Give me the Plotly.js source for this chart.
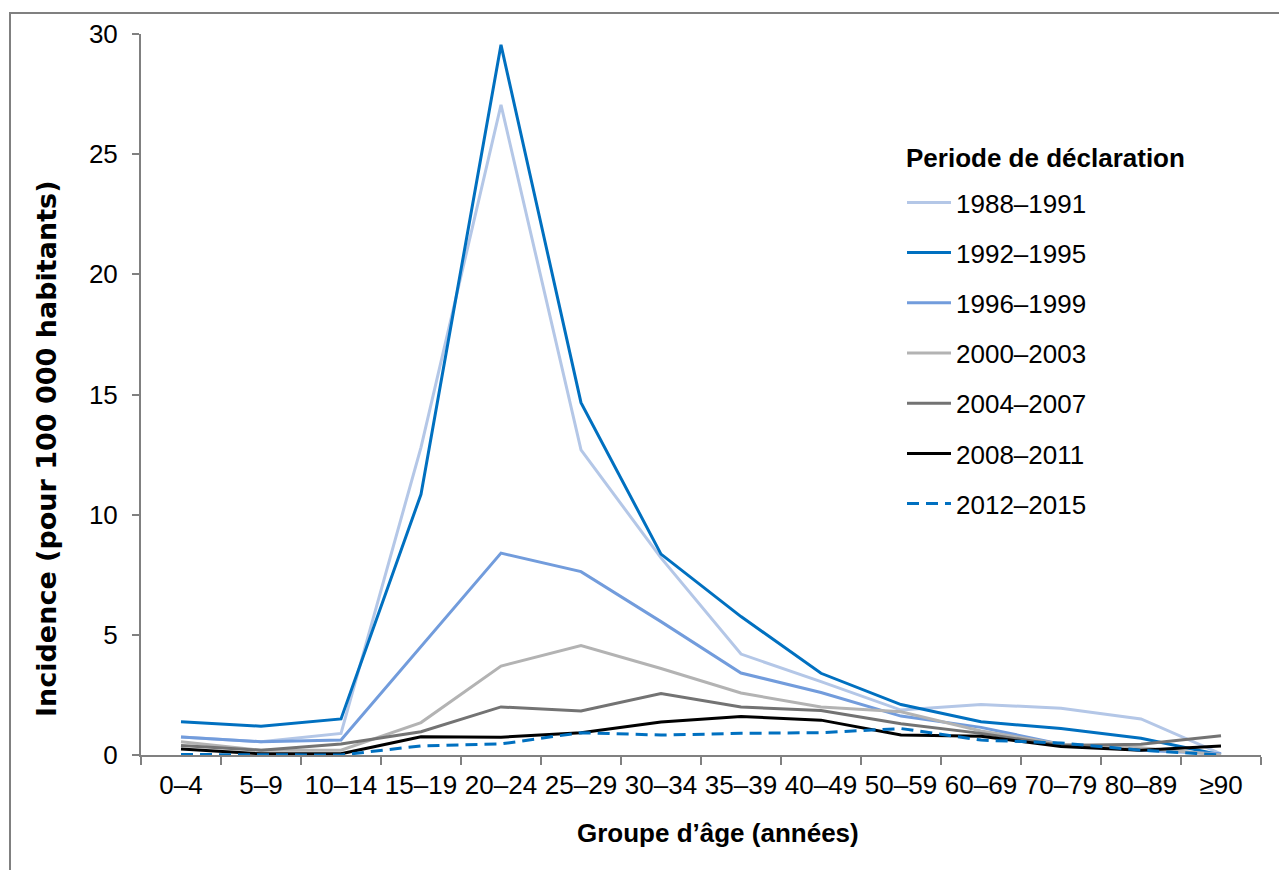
<!DOCTYPE html>
<html>
<head>
<meta charset="utf-8">
<script src="https://cdn.plot.ly/plotly-3.0.1.min.js"></script>
<style>
  html, body { margin: 0; padding: 0; background: #ffffff; }
  #chart { width: 1279px; height: 870px; }
</style>
</head>
<body>
<div id="chart"></div>
<script>
// Age groups (x categories)
const ageGroups = ['0–4','5–9','10–14','15–19','20–24','25–29','30–34','35–39','40–49','50–59','60–69','70–79','80–89','≥90'];

// Reporting periods (series names)
const periods = ['1988–1991','1992–1995','1996–1999','2000–2003','2004–2007','2008–2011','2012–2015'];

// Incidence per 100 000 inhabitants, one array per period
const inc1988_1991 = [0.75, 0.55, 0.9, 12.8, 27.05, 12.7, 8.2, 4.2, 3.05, 1.87, 2.1, 1.95, 1.5, 0.05];
const inc1992_1995 = [1.38, 1.2, 1.5, 10.85, 29.55, 14.66, 8.36, 5.76, 3.4, 2.1, 1.38, 1.1, 0.7, 0.0];
const inc1996_1999 = [0.75, 0.55, 0.62, 4.5, 8.4, 7.63, 5.55, 3.41, 2.6, 1.62, 1.15, 0.45, 0.2, 0.05];
const inc2000_2003 = [0.55, 0.2, 0.2, 1.35, 3.7, 4.55, 3.6, 2.58, 2.0, 1.8, 1.0, 0.45, 0.3, 0.0];
const inc2004_2007 = [0.4, 0.2, 0.46, 0.97, 2.0, 1.83, 2.56, 2.0, 1.85, 1.3, 0.9, 0.4, 0.45, 0.8];
const inc2008_2011 = [0.25, 0.05, 0.05, 0.76, 0.74, 0.93, 1.37, 1.6, 1.45, 0.83, 0.78, 0.35, 0.2, 0.37];
const inc2012_2015 = [0.02, 0.0, 0.0, 0.38, 0.46, 0.93, 0.83, 0.9, 0.93, 1.1, 0.62, 0.5, 0.2, 0.0];

const yTickVals = [0, 5, 10, 15, 20, 25, 30];

const legendTitle = 'Periode de déclaration';
const xTitle = 'Groupe d’âge (années)';
const yTitle = 'Incidence (pour 100 000 habitants)';

const seriesValues = [inc1988_1991, inc1992_1995, inc1996_1999, inc2000_2003, inc2004_2007, inc2008_2011, inc2012_2015];
const colors = ['#b4c7e7', '#0070c0', '#729cdc', '#b3b3b3', '#737373', '#000000', '#0070c0'];
const dashes = ['solid', 'solid', 'solid', 'solid', 'solid', 'solid', '12px,7px'];

const traces = periods.map((name, i) => ({
  type: 'scatter',
  mode: 'lines',
  name: name,
  legendgroup: 'g' + i,
  x: ageGroups,
  y: seriesValues[i],
  line: { color: colors[i], width: 3, dash: dashes[i] },
  hoverinfo: 'x+y+name'
}));

const W = 1279, H = 870;
const M = { l: 141, r: 18, t: 34, b: 115 };
const pw = W - M.l - M.r, ph = H - M.t - M.b;
const px = v => (v - M.l) / pw;          // pixel x -> paper x
const py = v => (H - M.b - v) / ph;      // pixel y -> paper y

const FONT = '"Liberation Sans", Arial, Helvetica, sans-serif';
const FS = 26;

const layout = {
  width: W,
  height: H,
  margin: M,
  paper_bgcolor: '#ffffff',
  plot_bgcolor: '#ffffff',
  font: { family: FONT, size: FS, color: '#000000' },
  showlegend: true,
  legend: {
    x: px(902), y: py(179), xanchor: 'left', yanchor: 'top',
    bgcolor: 'rgba(0,0,0,0)',
    font: { family: FONT, size: FS, color: '#000000' },
    traceorder: 'grouped',
    tracegroupgap: 13.4,
    itemwidth: 44
  },
  xaxis: {
    type: 'category',
    range: [-0.5, ageGroups.length - 0.5],
    tickson: 'boundaries',
    ticks: 'outside',
    ticklen: 8,
    tickwidth: 2,
    tickcolor: '#808080',
    tickangle: 0,
    ticklabelstandoff: 6,
    showline: true,
    linecolor: '#808080',
    linewidth: 2,
    showgrid: false,
    zeroline: false,
    tickfont: { family: FONT, size: FS, color: '#000000' },
    fixedrange: true
  },
  yaxis: {
    range: [0, 30],
    tickvals: yTickVals,
    ticks: 'outside',
    ticklen: 7,
    tickwidth: 2,
    tickcolor: '#808080',
    ticklabelstandoff: 9,
    showline: true,
    linecolor: '#808080',
    linewidth: 2,
    showgrid: false,
    zeroline: false,
    tickfont: { family: FONT, size: FS, color: '#000000' },
    fixedrange: true
  },
  annotations: [
    {
      text: '<b>' + legendTitle + '</b>',
      xref: 'paper', yref: 'paper',
      x: px(904), y: py(158),
      xanchor: 'left', yanchor: 'middle',
      showarrow: false,
      font: { family: FONT, size: FS, color: '#000000' }
    },
    {
      text: '<b>' + xTitle + '</b>',
      xref: 'paper', yref: 'paper',
      x: px(718), y: py(833),
      xanchor: 'center', yanchor: 'middle',
      showarrow: false,
      font: { family: FONT, size: FS, color: '#000000' }
    },
    {
      text: '<b>' + yTitle + '</b>',
      xref: 'paper', yref: 'paper',
      x: px(46), y: py(449),
      xanchor: 'center', yanchor: 'middle',
      textangle: -90,
      showarrow: false,
      font: { family: '"DejaVu Sans", "Liberation Sans", Arial, sans-serif', size: 27, color: '#000000' }
    }
  ],
  shapes: [
    {
      type: 'path',
      xref: 'paper', yref: 'paper',
      path: 'M ' + px(10) + ' ' + py(H + 5) + ' L ' + px(10) + ' ' + py(13) + ' L ' + px(W + 5) + ' ' + py(13),
      line: { color: '#808080', width: 2 }
    }
  ]
};

Plotly.newPlot('chart', traces, layout, { displayModeBar: false, staticPlot: true });
</script>
</body>
</html>
